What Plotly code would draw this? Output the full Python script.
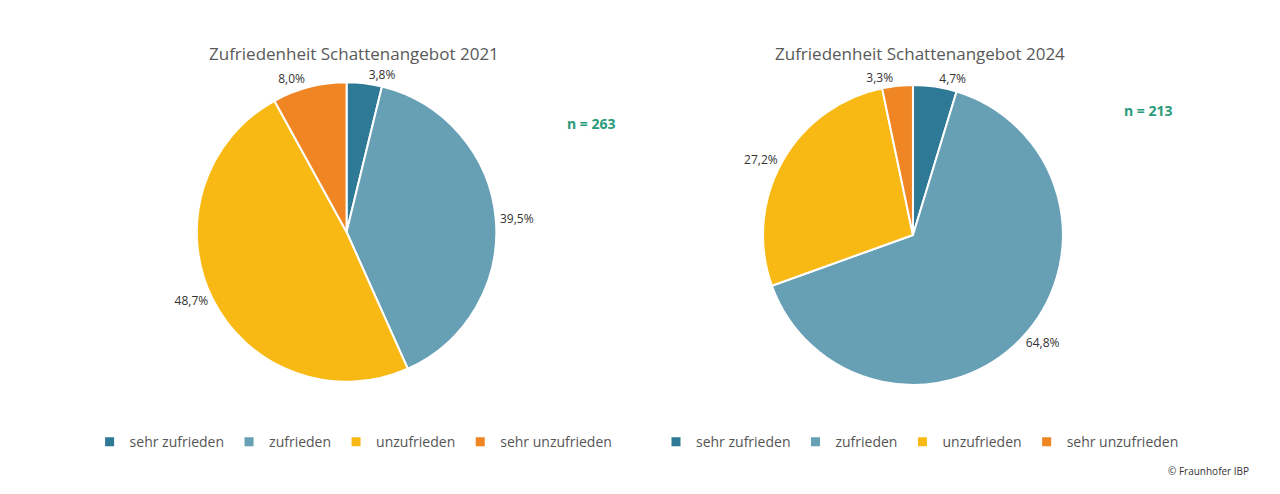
import plotly.graph_objects as go

categories = ["sehr zufrieden", "zufrieden", "unzufrieden", "sehr unzufrieden"]
values_2021 = [3.8, 39.5, 48.7, 8.0]
values_2024 = [4.7, 64.8, 27.2, 3.3]
titles = ["Zufriedenheit Schattenangebot 2021", "Zufriedenheit Schattenangebot 2024"]
n_labels = ["n = 263", "n = 213"]

colors = ["#2E7A96", "#679FB5", "#F9B915", "#F08523"]
font = "Open Sans, Noto Sans, sans-serif"


def fmt(v):
    return f"{v:.1f}%".replace(".", ",")


fig = go.Figure()
for vals, dom in [(values_2021, dict(x=[0.1475, 0.3815], y=[0.243, 0.850])),
                  (values_2024, dict(x=[0.5895, 0.8245], y=[0.237, 0.844]))]:
    fig.add_trace(go.Pie(
        labels=categories, values=vals, text=[fmt(v) for v in vals],
        textinfo="text", textposition="outside", sort=False, direction="clockwise",
        rotation=0, marker=dict(colors=colors, line=dict(color="white", width=2)),
        domain=dom, textfont=dict(size=12, color="#333333"), showlegend=False,
    ))

# legend entries as dummy scatter traces, one set per legend
for leg in ["legend", "legend2"]:
    for cat, col in zip(categories, colors):
        fig.add_trace(go.Scatter(
            x=[None], y=[None], mode="markers", name=cat, legend=leg,
            marker=dict(symbol="square", size=9, color=col),
        ))

legend_style = dict(orientation="h", xanchor="center", yanchor="middle", y=0.121,
                    font=dict(size=14, color="#555555"), traceorder="normal",
                    itemwidth=30, bgcolor="rgba(0,0,0,0)")

fig.update_layout(
    width=1280, height=494,
    margin=dict(l=0, r=0, t=0, b=0),
    paper_bgcolor="white", plot_bgcolor="white",
    font=dict(family=font),
    xaxis=dict(visible=False), yaxis=dict(visible=False),
    legend=dict(x=0.27, **legend_style),
    legend2=dict(x=0.7125, **legend_style),
    annotations=[
        dict(text=titles[0], x=0.27, y=1 - 32 / 494, xref="paper", yref="paper", xanchor="center",
             showarrow=False, font=dict(size=17, color="#595959")),
        dict(text=titles[1], x=0.7125, y=1 - 32 / 494, xref="paper", yref="paper", xanchor="center",
             showarrow=False, font=dict(size=17, color="#595959")),
        dict(text=f"<b>{n_labels[0]}</b>", x=583 / 1280, y=1 - 104 / 494, xref="paper", yref="paper",
             xanchor="center", showarrow=False, font=dict(size=14, color="#2A9A7A")),
        dict(text=f"<b>{n_labels[1]}</b>", x=1140 / 1280, y=1 - 91 / 494, xref="paper", yref="paper",
             xanchor="center", showarrow=False, font=dict(size=14, color="#2A9A7A")),
        dict(text="© Fraunhofer IBP", x=1200 / 1280, y=1 - 472 / 494, xref="paper", yref="paper",
             xanchor="center", showarrow=False, font=dict(size=10, color="#333333")),
    ],
)

fig.write_html("out.html")
